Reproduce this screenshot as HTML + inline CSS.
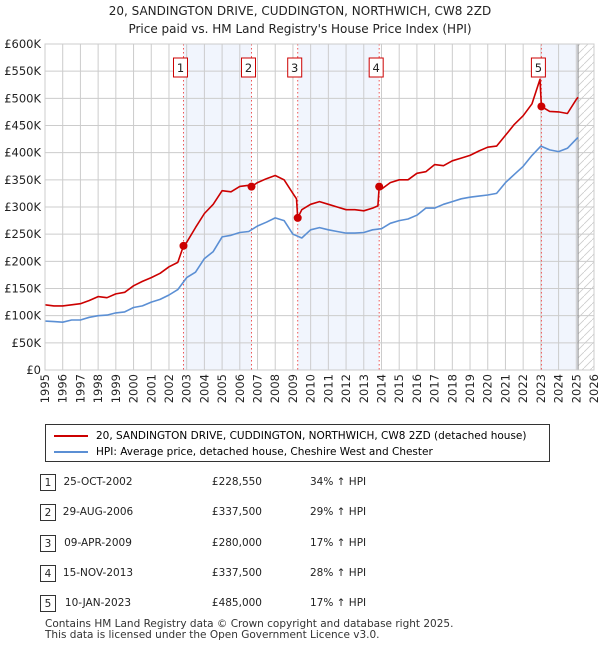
<!DOCTYPE html>
<html><head><meta charset="utf-8">
<style>
body{margin:0;background:#fff;font-family:"DejaVu Sans","Liberation Sans",sans-serif;}
#wrap{position:relative;width:600px;height:650px;overflow:hidden;}
.t{position:absolute;font-size:11px;color:#222;}
</style></head>
<body>
<div id="wrap">
<svg id="chart" width="600" height="420" style="position:absolute;left:0;top:0"></svg>
<div style="position:absolute;left:45px;top:424px;width:505px;height:38px;border:1px solid #333;box-sizing:border-box;font-size:10.5px;">
 <div style="position:absolute;left:8px;top:5px;white-space:nowrap"><span style="display:inline-block;width:34px;height:2px;background:#cc0000;vertical-align:middle;margin-right:8px"></span>20, SANDINGTON DRIVE, CUDDINGTON, NORTHWICH, CW8 2ZD (detached house)</div>
 <div style="position:absolute;left:8px;top:21px;white-space:nowrap"><span style="display:inline-block;width:34px;height:2px;background:#5b8fd4;vertical-align:middle;margin-right:8px"></span>HPI: Average price, detached house, Cheshire West and Chester</div>
</div>
<div id="table"></div>
<div class="t" style="left:45px;top:619px;font-size:10.5px;line-height:11px;color:#333">Contains HM Land Registry data © Crown copyright and database right 2025.<br>This data is licensed under the Open Government Licence v3.0.</div>
</div>
<script>
const hpiYears=[1995,1995.5,1996,1996.5,1997,1997.5,1998,1998.5,1999,1999.5,2000,2000.5,2001,2001.5,2002,2002.5,2003,2003.5,2004,2004.5,2005,2005.5,2006,2006.5,2007,2007.5,2008,2008.5,2009,2009.5,2010,2010.5,2011,2011.5,2012,2012.5,2013,2013.5,2014,2014.5,2015,2015.5,2016,2016.5,2017,2017.5,2018,2018.5,2019,2019.5,2020,2020.5,2021,2021.5,2022,2022.5,2023,2023.5,2024,2024.5,2025,2025.1];
const hpiValues=[90,89,88,92,92,97,100,101,105,107,115,118,125,130,138,148,170,180,205,218,245,248,253,255,265,272,280,275,250,243,258,262,258,255,252,252,253,258,260,270,275,278,285,298,298,305,310,315,318,320,322,325,345,360,375,395,412,405,402,408,425,428];
const propYears=[1995,1995.5,1996,1996.5,1997,1997.5,1998,1998.5,1999,1999.5,2000,2000.5,2001,2001.5,2002,2002.5,2002.82,2003,2003.5,2004,2004.5,2005,2005.5,2006,2006.5,2006.66,2007,2007.5,2008,2008.5,2009,2009.2,2009.27,2009.5,2010,2010.5,2011,2011.5,2012,2012.5,2013,2013.5,2013.8,2013.87,2014,2014.5,2015,2015.5,2016,2016.5,2017,2017.5,2018,2018.5,2019,2019.5,2020,2020.5,2021,2021.5,2022,2022.5,2022.95,2023.03,2023.5,2024,2024.5,2025,2025.1];
const propValues=[120,118,118,120,122,128,135,133,140,143,155,163,170,178,190,198,228.5,235,262,288,305,330,328,338,340,337.5,345,352,358,350,325,315,280,295,305,310,305,300,295,295,293,298,302,337.5,333,345,350,350,362,365,378,376,385,390,395,403,410,412,432,452,468,490,535,485,476,475,472,498,502];
const saleYears=[2002.82,2006.66,2009.27,2013.87,2023.03];
const saleValues=[228.55,337.5,280,337.5,485];
const saleDates=["25-OCT-2002","29-AUG-2006","09-APR-2009","15-NOV-2013","10-JAN-2023"];
const salePrices=["£228,550","£337,500","£280,000","£337,500","£485,000"];
const saleHpi=["34% ↑ HPI","29% ↑ HPI","17% ↑ HPI","28% ↑ HPI","17% ↑ HPI"];
const yTicks=[0,50,100,150,200,250,300,350,400,450,500,550,600];
const yTickLabels=["£0","£50K","£100K","£150K","£200K","£250K","£300K","£350K","£400K","£450K","£500K","£550K","£600K"];
const xTicks=[1995,1996,1997,1998,1999,2000,2001,2002,2003,2004,2005,2006,2007,2008,2009,2010,2011,2012,2013,2014,2015,2016,2017,2018,2019,2020,2021,2022,2023,2024,2025,2026];

const L=45,R=594,T=44,B=370,X0=1995,X1=2026,YM=600;
const xs=y=>L+(y-X0)/(X1-X0)*(R-L);
const ys=v=>B-v/YM*(B-T);
const NS="http://www.w3.org/2000/svg";
const svg=document.getElementById('chart');
function mk(tag,attrs,parent){const e=document.createElementNS(NS,tag);for(const k in attrs)e.setAttribute(k,attrs[k]);(parent||svg).appendChild(e);return e;}

let tt=mk('text',{x:300,y:15,'text-anchor':'middle','font-size':12,fill:'#222'});tt.textContent="20, SANDINGTON DRIVE, CUDDINGTON, NORTHWICH, CW8 2ZD";


let ts=mk('text',{x:300,y:33,'text-anchor':'middle','font-size':12,fill:'#222'});ts.textContent="Price paid vs. HM Land Registry's House Price Index (HPI)";



const shadeRanges=[[saleYears[0],saleYears[1]],[saleYears[2],saleYears[3]],[saleYears[4],2025.1]];
shadeRanges.forEach(r=>{const s=mk('rect',{x:xs(r[0]),y:T,width:xs(r[1])-xs(r[0]),height:B-T,fill:'#f1f5fd'});

});
const defs=mk('defs',{});
const pat=mk('pattern',{id:'h',width:8,height:8,patternUnits:'userSpaceOnUse'},defs);
mk('path',{d:'M0,8 L8,0',stroke:'#ccc','stroke-width':0.8},pat);
const hx=mk('rect',{x:xs(2025.1),y:T,width:R-xs(2025.1),height:B-T,fill:'url(#h)'});



xTicks.forEach(y=>{mk('line',{x1:xs(y),x2:xs(y),y1:T,y2:B,stroke:'#ccc','stroke-width':1});
const lb=mk('text',{transform:`translate(${xs(y)+4},${B+4}) rotate(-90)`,'text-anchor':'end','font-size':11.5,fill:'#222'});lb.textContent=y;

});
yTicks.forEach((v,i)=>{mk('line',{x1:L,x2:R,y1:ys(v),y2:ys(v),stroke:'#ccc','stroke-width':1});
const lb=mk('text',{x:L-4,y:ys(v)+4,'text-anchor':'end','font-size':11.5,fill:'#222'});lb.textContent=yTickLabels[i];

});
mk('line',{x1:xs(2025.1),x2:xs(2025.1),y1:T,y2:B,stroke:'#888','stroke-width':1});

saleYears.forEach((y,i)=>{mk('line',{x1:xs(y),x2:xs(y),y1:T,y2:B,stroke:'#ee5555','stroke-width':1,'stroke-dasharray':'1.5,2.5'});
const g=mk('g',{});


mk('rect',{x:xs(y)-10,y:58,width:14,height:19,fill:'#fff',stroke:'#cc0000'},g);
const t=mk('text',{x:xs(y)-3,y:72,'text-anchor':'middle','font-size':11.5,fill:'#222'},g);t.textContent=i+1;});

function line(xsArr,vs,color,name){const p=mk('path',{d:xsArr.map((y,i)=>(i?'L':'M')+xs(y).toFixed(1)+','+ys(vs[i]).toFixed(1)).join(''),fill:'none',stroke:color,'stroke-width':1.6,'stroke-linejoin':'round'});

}
line(hpiYears,hpiValues,'#5b8fd4','hpi-line');
line(propYears,propValues,'#cc0000','property-line');
saleYears.forEach((y,i)=>{const c=mk('circle',{cx:xs(y),cy:ys(saleValues[i]),r:4,fill:'#cc0000'});

});
mk('rect',{x:L,y:T,width:R-L,height:B-T,fill:'none',stroke:'#ccc'});

const tb=document.getElementById('table');
const rowY=[482,512,543,573,603];
saleDates.forEach((d,i)=>{
 const r=document.createElement('div');
 
 
 r.style.cssText=`position:absolute;left:0;top:${rowY[i]-8}px;width:600px;height:18px;font-size:10.5px;color:#222`;
 r.innerHTML=`<span style="position:absolute;left:40px;top:0;width:16px;height:17px;border:1px solid #333;box-sizing:border-box;text-align:center;line-height:16px">${i+1}</span>
 <span style="position:absolute;left:58px;width:80px;text-align:center;top:2px">${d}</span>
 <span style="position:absolute;left:180px;width:82px;text-align:right;top:2px">${salePrices[i]}</span>
 <span style="position:absolute;left:310px;top:2px">${saleHpi[i]}</span>`;
 tb.appendChild(r);
});
</script>
</body></html>
